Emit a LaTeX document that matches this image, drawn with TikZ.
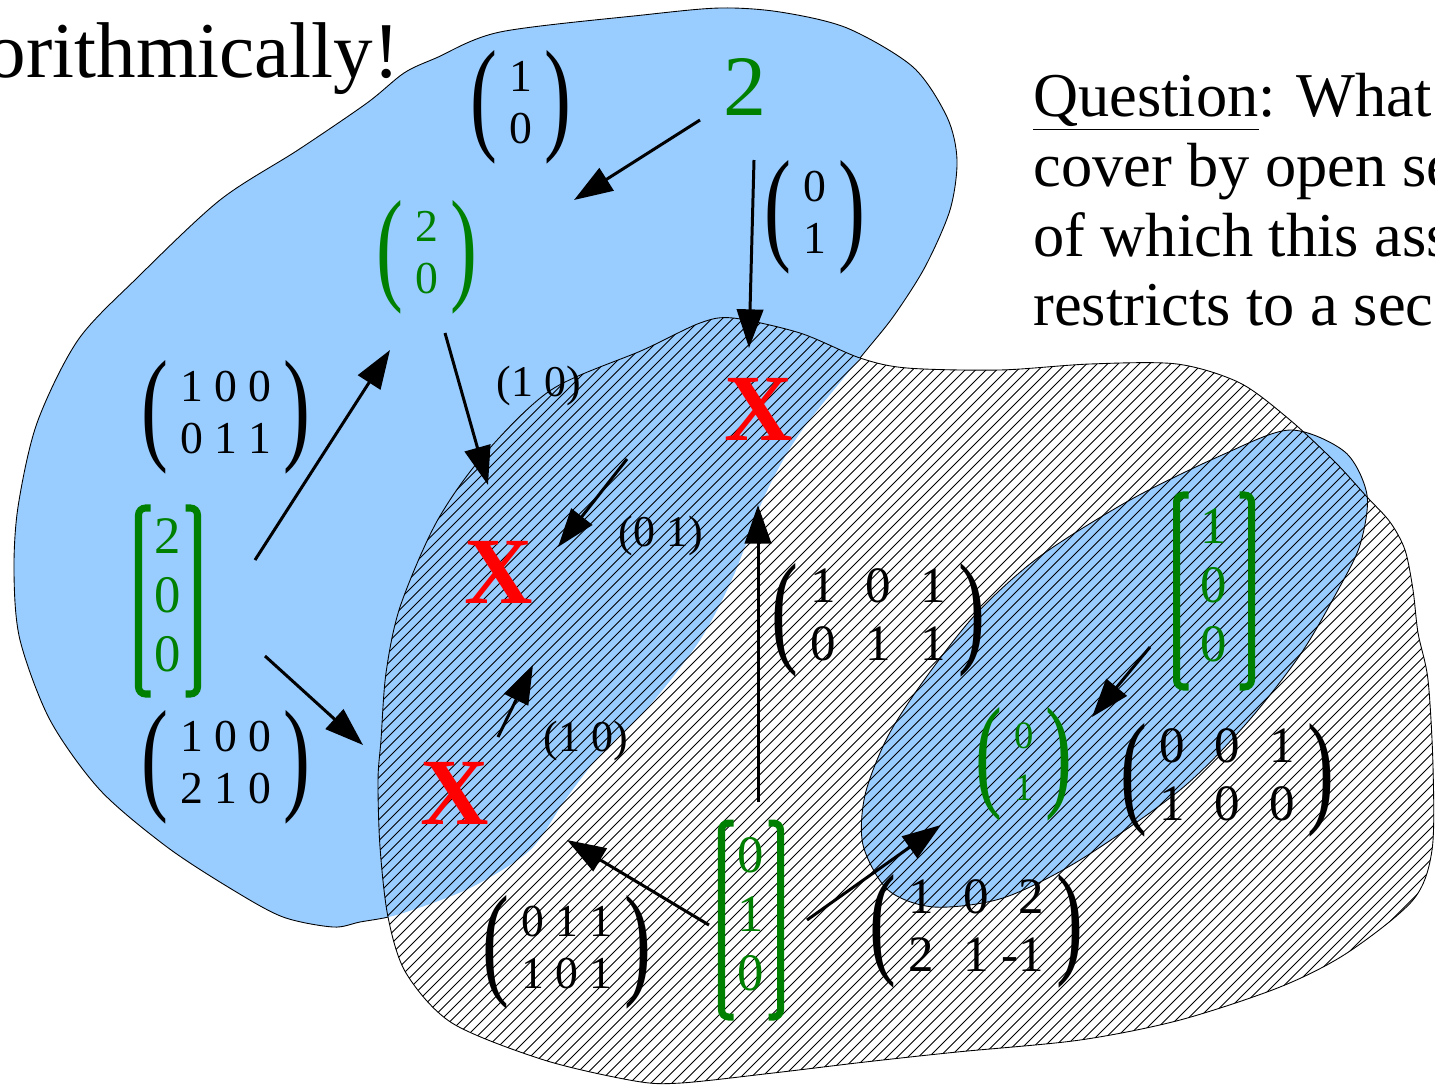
\documentclass[tikz,border=0pt]{standalone}
\usepackage{graphicx}
\usepackage{fontspec}
\setmainfont{Liberation Serif}
\usetikzlibrary{arrows.meta}

\definecolor{sky}{HTML}{99CCFF}
\definecolor{ggreen}{HTML}{008000}

% tall parentheses and matrices
\newcommand{\tallp}[1]{$\vcenter{\hbox{\scalebox{1.35}[2.1]{\fontsize{34}{34}\selectfont#1}}}$}
\newcommand{\mtx}[1]{\tallp{(}\hspace{7pt}\begin{tabular}{@{}c@{}}#1\end{tabular}\hspace{7pt}\tallp{)}}
\newcommand{\wg}{\hspace{.58em}}
% green square brackets round a node
\newcommand{\gbr}[3]{%
  \draw[gbrk] ([shift={(-#2+12,-#3)}]#1.center) -- ++(-12,0) -- ++(0,2*#3) -- ++(12,0);
  \draw[gbrk] ([shift={(#2-12,-#3)}]#1.center) -- ++(12,0) -- ++(0,2*#3) -- ++(-12,0);}

\begin{document}
\begin{tikzpicture}[x=0.02cm,y=-0.02cm]
\tikzstyle{mat} = [inner sep=0pt, font=\fontsize{26}{29.5}\selectfont]
\tikzstyle{wmat} = [inner sep=0pt, font=\fontsize{29}{33}\selectfont]
\tikzstyle{gmat} = [mat, text=ggreen]
\tikzstyle{gcol} = [inner sep=0pt, text=ggreen, font=\fontsize{30}{33.5}\selectfont]
\tikzstyle{gbrk} = [draw=ggreen, line width=4pt, rounded corners=4pt]
\tikzstyle{bad} = [inner sep=0pt, text=red, font=\fontsize{54}{54}\selectfont\bfseries]
\tikzstyle{lab} = [inner sep=0pt, font=\fontsize{25}{25}\selectfont]
\tikzstyle{arr} = [line width=1.7pt, -{Triangle[length=22pt,width=15pt]}]
\tikzstyle{hatch} = [line width=0.45pt]
\tikzstyle{rim} = [line width=0.5pt]

\useasboundingbox (0,0) rectangle (1435,1085);
\clip (0,0) rectangle (1435,1085);

\def\blueblob{plot[smooth cycle] coordinates {(404,73) (436,58) (500,32) (643,15) (720,8) (780,12) (847,28) (913,67) (947,117) (957,160) (950,210) (925,267) (893,317) (860,358) (800,433) (765,495) (733,577) (700,640) (650,705) (600,755) (565,800) (530,850) (470,888) (400,914) (360,922) (333,927) (283,917) (233,890) (167,847) (100,790) (50,720) (20,640) (14,573) (18,507) (37,423) (78,340) (138,277) (220,200) (298,150) (367,103)}}
\def\hatchblob{plot[smooth cycle] coordinates {(733,318) (800,333) (860,358) (907,368) (1000,370) (1090,364) (1177,364) (1240,383) (1290,420) (1335,462) (1367,497) (1390,522) (1405,550) (1413,590) (1418,633) (1428,680) (1433,767) (1432,850) (1413,900) (1347,953) (1280,987) (1180,1020) (1080,1040) (957,1052) (865,1062) (773,1073) (681,1083) (635,1081) (544,1060) (452,1023) (406,973) (388,917) (380,847) (378,780) (381,740) (386,673) (400,607) (436,523) (482,457) (551,390) (643,350) (700,323)}}
\def\rightblob{plot[smooth cycle] coordinates {(1290,430) (1345,452) (1367,495) (1360,545) (1338,590) (1300,655) (1245,725) (1180,790) (1080,860) (1003,898) (934,907) (888,890) (863,845) (865,795) (887,738) (922,683) (975,615) (1039,557) (1130,500) (1222,455)}}

% regions
\fill[sky] \blueblob;
\draw[rim] \blueblob;
\fill[white] \hatchblob;
\begin{scope}
\clip \hatchblob;
\fill[sky] \blueblob;
\end{scope}
\filldraw[fill=sky, rim] \rightblob;
\begin{scope}
\clip \hatchblob;
\foreach \c in {600,610.5,...,2700}
  \draw[hatch] (\c-1100,1100) -- (\c,0);
\end{scope}
\draw[rim] \hatchblob;

% texts
\node[anchor=base east, inner sep=0pt, font=\fontsize{45}{50}\selectfont] (title) at (400,77) {orithmically!};
\node[anchor=north west, inner sep=0pt, align=left, font=\fontsize{35.5}{39.7}\selectfont] (question) at (1033,73) {\underline{Question}: What\\cover by open se\\of which this ass\\restricts to a sec};

\node[mat] (m10) at (521,107) {\mtx{1\\0}};
\node[anchor=base, inner sep=0pt, text=ggreen, font=\fontsize{49}{49}\selectfont] (two) at (745,115) {2};
\node[gmat] (v20) at (427,257) {\mtx{2\\0}};
\node[mat] (v01) at (815,217) {\mtx{0\\1}};
\node[mat] (m100011) at (226,417) {\mtx{1 0 0\\0 1 1}};
\node[lab] (l10a) at (539,386) {(1 0)};
\node[bad] (xa) at (759,409) {X};
\node[bad] (xb) at (499,572) {X};
\node[lab] (l01) at (661,536) {(0 1)};
\node[bad] (xc) at (455,793) {X};
\node[lab] (l10b) at (586,741) {(1 0)};
\node[gcol] (c200) at (168,601) {\begin{tabular}{@{}c@{}}2\\0\\0\end{tabular}};
\gbr{c200}{29.5}{93}
\node[mat] (m100210) at (226,767) {\mtx{1 0 0\\2 1 0}};
\node[wmat] (m101011) at (878,620) {\mtx{1\wg 0\wg 1\\0\wg 1\wg 1}};
\node[gcol] (c100) at (1214,591) {\begin{tabular}{@{}c@{}}1\\0\\0\end{tabular}};
\gbr{c100}{37.5}{96}
\node[gmat, font=\fontsize{22}{30}\selectfont] (v01g) at (1024,764) {\mtx{0\\1}};
\node[wmat] (m001100) at (1227,780) {\mtx{0\wg 0\wg 1\\1\wg 0\wg 0}};
\node[mat] (m011101) at (567,952) {\mtx{0 1 1\\1 0 1}};
\node[gcol] (c010) at (751,920) {\begin{tabular}{@{}c@{}}0\\1\\0\end{tabular}};
\gbr{c010}{29.5}{97}
\node[wmat] (m102) at (976,931) {\mtx{1\wg 0\wg 2\\2\wg 1\hspace{.25em}-1}};

% arrows
\coordinate (t1) at (700,120);  \coordinate (h1) at (574,200);
\coordinate (t2) at (754,160);  \coordinate (h2) at (749,348);
\coordinate (t3) at (255,560);  \coordinate (h3) at (390,350);
\coordinate (t4) at (445,333);  \coordinate (h4) at (488,485);
\coordinate (t5) at (627,459);  \coordinate (h5) at (558,547);
\coordinate (t6) at (498,737);  \coordinate (h6) at (533,665);
\coordinate (t7) at (265,656);  \coordinate (h7) at (363,745);
\coordinate (t8) at (758,802);  \coordinate (h8) at (758,505);
\coordinate (t9) at (709,925);  \coordinate (h9) at (567,840);
\coordinate (t10) at (807,920); \coordinate (h10) at (941,825);
\coordinate (t11) at (1150,647); \coordinate (h11) at (1092,717);
\foreach \i in {1,...,11}
  \draw[arr] (t\i) -- (h\i);

\end{tikzpicture}
\end{document}
